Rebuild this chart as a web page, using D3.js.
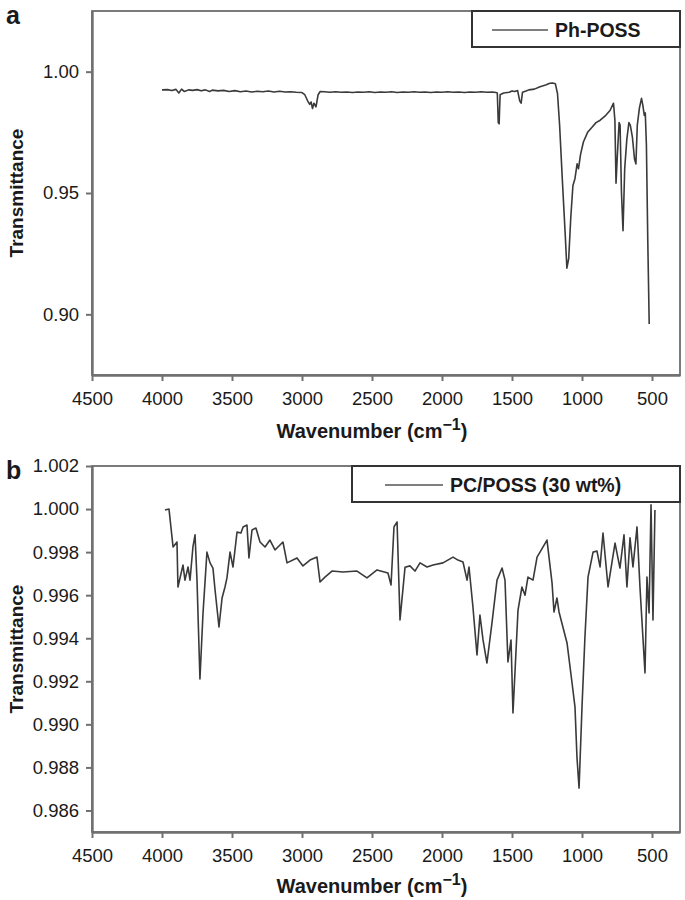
<!DOCTYPE html>
<html>
<head>
<meta charset="utf-8">
<script src="https://cdn.jsdelivr.net/npm/d3@7"></script>
<style>
  body { margin: 0; background: #fff; }
  svg text { font-family: "Liberation Sans", Arial, sans-serif; fill: #1a1a1a; }
</style>
</head>
<body>
<script>
// ---- data ----
var xTicks = [4500, 4000, 3500, 3000, 2500, 2000, 1500, 1000, 500];

var ticksA = [0.90, 0.95, 1.00];
var ticksB = [0.986, 0.988, 0.990, 0.992, 0.994, 0.996, 0.998, 1.000, 1.002];

// (a) Ph-POSS
var waveA = [4000, 3960, 3930, 3900, 3880, 3860, 3840, 3810, 3780, 3750, 3720, 3690, 3660, 3640, 3600,
  3560, 3520, 3480, 3440, 3400, 3360, 3320, 3280, 3240, 3200, 3160, 3120, 3080, 3040, 3000,
  2980, 2960, 2945, 2935, 2925, 2915, 2900, 2885, 2870,
  2840, 2800, 2760, 2720, 2680, 2640, 2600, 2560, 2520, 2480, 2440, 2400, 2360, 2320, 2280, 2240,
  2200, 2160, 2120, 2080, 2040, 2000, 1960, 1920, 1880, 1840, 1800, 1760, 1720, 1680, 1640, 1615,
  1605, 1598, 1592, 1585, 1560, 1520, 1500, 1480, 1460, 1445, 1435, 1425, 1400, 1380, 1340, 1300,
  1260, 1230, 1210, 1190, 1175, 1160, 1140, 1120, 1108, 1095, 1080, 1065, 1050, 1035, 1025, 1010,
  990, 960, 930, 900, 870, 830, 800, 775, 765, 757, 748, 735, 728, 718, 707, 695, 680, 665, 655,
  640, 625, 615, 605, 590, 575, 565, 555, 548, 540, 530, 520];
var transA = [0.9925, 0.9926, 0.9922, 0.9927, 0.9912, 0.9928, 0.9918, 0.9925, 0.9923, 0.9926, 0.9921, 0.9925, 0.9918, 0.9924, 0.9921,
  0.9923, 0.9918, 0.9922, 0.9917, 0.9920, 0.9916, 0.9919, 0.9917, 0.9920, 0.9916, 0.9919, 0.9916, 0.9917, 0.9915, 0.9914,
  0.9905, 0.9880, 0.9865, 0.9875, 0.9848, 0.9870, 0.9855, 0.9905, 0.9918,
  0.9917, 0.9915, 0.9917, 0.9915, 0.9916, 0.9914, 0.9916, 0.9915, 0.9917, 0.9914, 0.9916, 0.9915, 0.9917, 0.9914, 0.9916, 0.9915,
  0.9917, 0.9915, 0.9916, 0.9914, 0.9916, 0.9915, 0.9917, 0.9915, 0.9916, 0.9914, 0.9916, 0.9915, 0.9917, 0.9915, 0.9916, 0.9914,
  0.9912, 0.9790, 0.9785, 0.9905, 0.9912, 0.9915, 0.9920, 0.9918, 0.9922, 0.9880, 0.9870, 0.9915, 0.9920, 0.9925, 0.9928, 0.9938,
  0.9945, 0.9952, 0.9953, 0.9950, 0.9910, 0.9780, 0.9550, 0.9330, 0.9190, 0.9230, 0.9400, 0.9530, 0.9560, 0.9620, 0.9600, 0.9660,
  0.9710, 0.9750, 0.9770, 0.9790, 0.9800, 0.9820, 0.9840, 0.9870, 0.9800, 0.9540, 0.9650, 0.9790, 0.9780, 0.9500, 0.9345, 0.9600, 0.9720, 0.9790, 0.9780,
  0.9730, 0.9640, 0.9620, 0.9780, 0.9850, 0.9890, 0.9860, 0.9820, 0.9830, 0.9700, 0.9300, 0.8960];

// (b) PC/POSS (30 wt%)
var waveB = [3979, 3950, 3921, 3893, 3886, 3850, 3836, 3814, 3800, 3779, 3764, 3750, 3729, 3707, 3679,
  3657, 3636, 3621, 3593, 3571, 3550, 3536, 3514, 3493, 3464, 3436, 3421, 3393, 3379, 3357, 3329,
  3300, 3264, 3229, 3193, 3136, 3107, 3036, 2993, 2943, 2893, 2871, 2836, 2786, 2707, 2607, 2536,
  2464, 2386, 2364, 2343, 2321, 2300, 2264, 2229, 2193, 2157, 2107, 2064, 1993, 1921, 1886, 1850,
  1821, 1807, 1779, 1750, 1729, 1707, 1679, 1643, 1607, 1571, 1550, 1529, 1507, 1493, 1457, 1429,
  1407, 1386, 1350, 1321, 1300, 1250, 1214, 1200, 1179, 1164, 1107, 1071, 1050, 1036, 1021, 1000,
  979, 957, 921, 893, 871, 850, 814, 764, 729, 700, 679, 657, 636, 607, 586, 550, 536, 521, 507, 493, 479];
var transB = [0.99996, 1.00000, 0.99824, 0.99847, 0.99638, 0.99740, 0.99670, 0.99731, 0.99670, 0.99824, 0.99880, 0.99670, 0.99211, 0.99517, 0.99800,
  0.99750, 0.99726, 0.99624, 0.99452, 0.99587, 0.99638, 0.99680, 0.99800, 0.99731, 0.99893, 0.99889, 0.99917, 0.99926, 0.99773, 0.99903, 0.99912,
  0.99847, 0.99824, 0.99856, 0.99810, 0.99847, 0.99750, 0.99773, 0.99736, 0.99763, 0.99777, 0.99661, 0.99684, 0.99712, 0.99708, 0.99712, 0.99680,
  0.99717, 0.99703, 0.99647, 0.99917, 0.99940, 0.99485, 0.99730, 0.99736, 0.99712, 0.99750, 0.99731, 0.99740, 0.99750, 0.99777, 0.99763, 0.99754,
  0.99670, 0.99731, 0.99545, 0.99322, 0.99508, 0.99392, 0.99285, 0.99471, 0.99670, 0.99726, 0.99670, 0.99290, 0.99392, 0.99053, 0.99531, 0.99638,
  0.99600, 0.99684, 0.99670, 0.99777, 0.99800, 0.99856, 0.99657, 0.99522, 0.99587, 0.99522, 0.99378, 0.99192, 0.99080, 0.98848, 0.98704, 0.99080,
  0.99406, 0.99684, 0.99800, 0.99805, 0.99731, 0.99889, 0.99638, 0.99842, 0.99726, 0.99880, 0.99638, 0.99866, 0.99731, 0.99917, 0.99638, 0.99239, 0.99684, 0.99517, 1.00020, 0.99485, 0.99996];

var width = 685, height = 900;

var svg = d3.select("body").append("svg")
    .attr("width", width)
    .attr("height", height);

var x = d3.scaleLinear().domain([4500, 300]).range([92, 680]);

drawPanel({
    letter: "a", top: 11, bottom: 375, domain: [0.875, 1.025], ticks: ticksA, fmt: d3.format(".2f"),
    wave: waveA, trans: transA, legend: "Ph-POSS",
    legendBox: [472, 11, 680, 47], legendLine: [492, 548], legendText: 555,
    titleY: 438
});

drawPanel({
    letter: "b", top: 466, bottom: 832, domain: [0.985, 1.002], ticks: ticksB, fmt: d3.format(".3f"),
    wave: waveB, trans: transB, legend: "PC/POSS (30 wt%)",
    legendBox: [352, 466, 680, 502], legendLine: [385, 443], legendText: 450,
    titleY: 893
});

function drawPanel(p) {
    var y = d3.scaleLinear().domain(p.domain).range([p.bottom, p.top]);
    var g = svg.append("g").attr("class", "panel-" + p.letter);

    // frame
    g.append("rect")
        .attr("x", x.range()[0])
        .attr("y", p.top)
        .attr("width", x.range()[1] - x.range()[0])
        .attr("height", p.bottom - p.top)
        .attr("fill", "none")
        .attr("stroke", "#5a5a5a")
        .attr("stroke-width", 1.6);

    // spectrum
    var pts = p.wave.map(function (w, i) { return [w, p.trans[i]]; });
    var line = d3.line()
        .x(function (d) { return x(d[0]); })
        .y(function (d) { return y(d[1]); });
    g.append("path")
        .datum(pts)
        .attr("d", line)
        .attr("fill", "none")
        .attr("stroke", "#3a3a3a")
        .attr("stroke-width", 1.6)
        .attr("stroke-linejoin", "round");

    // axes
    var yAxis = d3.axisLeft(y).tickValues(p.ticks).tickFormat(p.fmt).tickSize(6).tickSizeOuter(0).tickPadding(7);
    var xAxis = d3.axisBottom(x).tickValues(xTicks).tickFormat(d3.format("d")).tickSize(6).tickSizeOuter(0).tickPadding(11);

    var ya = g.append("g")
        .attr("transform", "translate(" + x.range()[0] + ",0)")
        .call(yAxis);
    var xa = g.append("g")
        .attr("transform", "translate(0," + p.bottom + ")")
        .call(xAxis);

    [ya, xa].forEach(function (a) {
        a.select(".domain").attr("stroke", "#707070").attr("stroke-width", 2.4);
        a.selectAll(".tick line").attr("stroke", "#707070").attr("stroke-width", 2);
        a.selectAll(".tick text")
            .attr("font-family", "Liberation Sans, Arial, sans-serif")
            .attr("font-size", 18.5)
            .attr("fill", "#1a1a1a");
    });

    // legend
    var b = p.legendBox;
    g.append("rect")
        .attr("x", b[0]).attr("y", b[1])
        .attr("width", b[2] - b[0]).attr("height", b[3] - b[1])
        .attr("fill", "#fff")
        .attr("stroke", "#333")
        .attr("stroke-width", 2);
    var ly = (b[1] + b[3]) / 2 + 1;
    g.append("line")
        .attr("x1", p.legendLine[0]).attr("x2", p.legendLine[1])
        .attr("y1", ly).attr("y2", ly)
        .attr("stroke", "#555")
        .attr("stroke-width", 1.6);
    g.append("text")
        .attr("x", p.legendText)
        .attr("y", ly + 7)
        .attr("font-size", 19.5)
        .attr("font-weight", "bold")
        .text(p.legend);

    // panel letter
    g.append("text")
        .attr("x", 6)
        .attr("y", p.top + 13)
        .attr("font-size", 25)
        .attr("font-weight", "bold")
        .text(p.letter);

    // axis titles
    g.append("text")
        .attr("transform", "translate(23," + ((p.top + p.bottom) / 2) + ") rotate(-90)")
        .attr("text-anchor", "middle")
        .attr("font-size", 19)
        .attr("font-weight", "bold")
        .text("Transmittance");

    var t = g.append("text")
        .attr("x", 372)
        .attr("y", p.titleY)
        .attr("text-anchor", "middle")
        .attr("font-size", 20)
        .attr("font-weight", "bold");
    t.append("tspan").text("Wavenumber (cm");
    t.append("tspan").attr("dy", -8).attr("font-size", 16).text("\u22121");
    t.append("tspan").attr("dy", 8).text(")");
}
</script>
</body>
</html>
